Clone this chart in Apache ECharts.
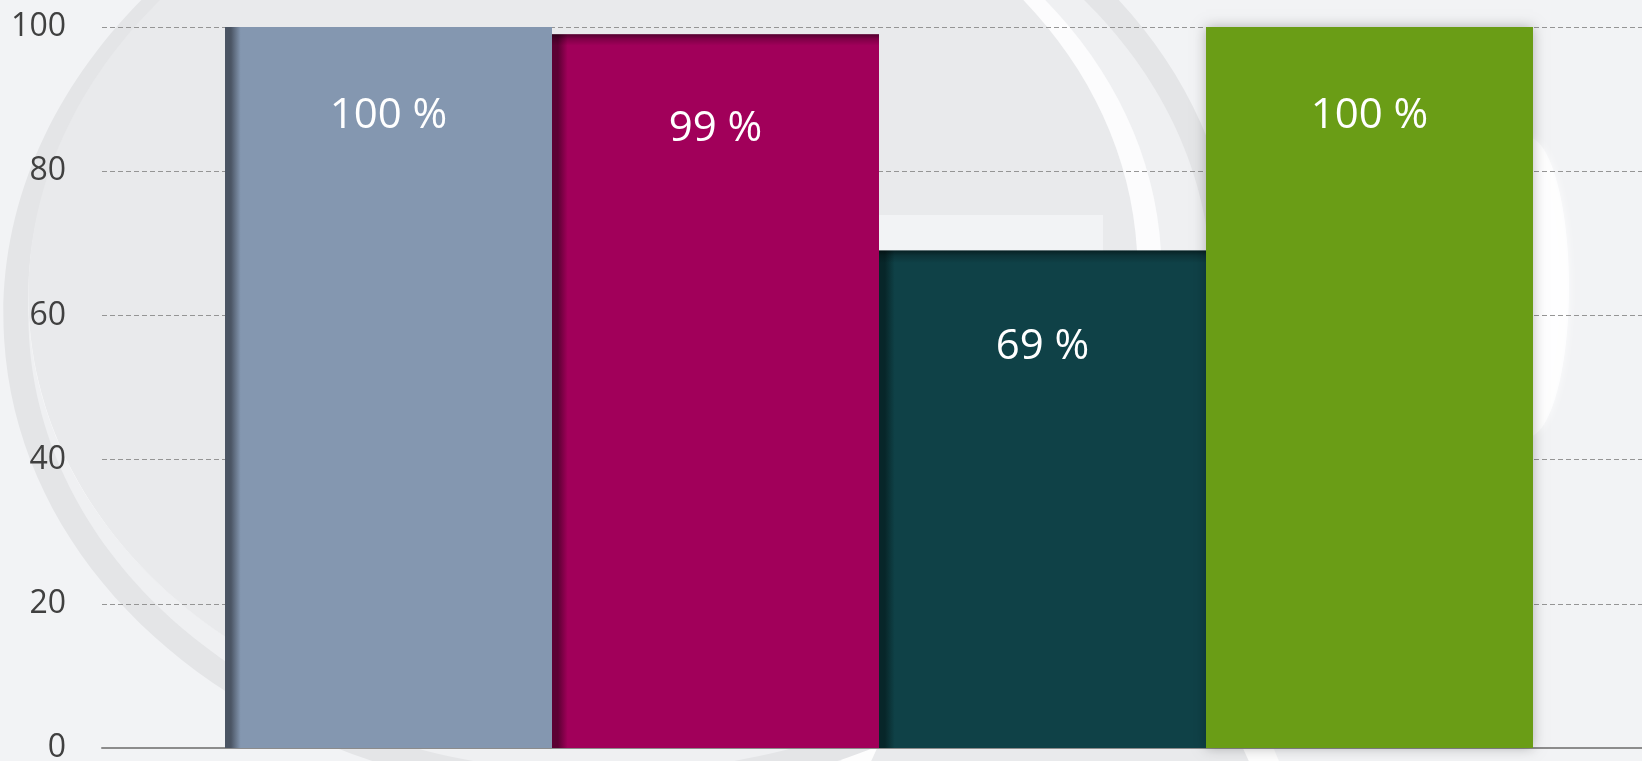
<!DOCTYPE html>
<html>
<head>
<meta charset="utf-8">
<script src="https://cdn.jsdelivr.net/npm/echarts@6/dist/echarts.min.js"></script>
<style>
  html, body { margin: 0; padding: 0; background: #f2f3f5; }
  #chart { width: 1642px; height: 761px; }
</style>
</head>
<body>
<div id="chart"></div>
<script>
// ---- data ----
const categories = [''];
const values = [100, 99, 69, 100];
const yTicks = [0, 20, 40, 60, 80, 100];

// ---- styles ----
const barColors = ['#8497b0', '#a1005a', '#0f4147', '#6a9d16'];
const edgeColors = ['#4b5564', '#5c0033', '#072629', null];
const topShade = [0, 0.016, 0.025, 0];
const labelDistance = [68, 74, 76, 68];

const chart = echarts.init(document.getElementById('chart'), null, { renderer: 'canvas' });

function leftEdgeFill(i) {
  if (!edgeColors[i]) return barColors[i];
  return new echarts.graphic.LinearGradient(0, 0, 1, 0, [
    { offset: 0, color: edgeColors[i] },
    { offset: 0.018, color: edgeColors[i] },
    { offset: 0.048, color: barColors[i] },
    { offset: 1, color: barColors[i] }
  ]);
}
function topFill(i) {
  if (!topShade[i]) return 'rgba(0,0,0,0)';
  return new echarts.graphic.LinearGradient(0, 0, 0, 1, [
    { offset: 0, color: 'rgba(0,0,0,0.5)' },
    { offset: topShade[i] * 0.4, color: 'rgba(0,0,0,0.22)' },
    { offset: topShade[i], color: 'rgba(0,0,0,0)' },
    { offset: 1, color: 'rgba(0,0,0,0)' }
  ]);
}

const baseSeries = values.map((v, i) => ({
  type: 'bar',
  xAxisIndex: 0,
  yAxisIndex: 0,
  data: [v],
  barWidth: 327,
  barGap: '0%',
  silent: true,
  z: 2,
  itemStyle: Object.assign({ color: leftEdgeFill(i) },
    i === 3 ? { shadowBlur: 12, shadowColor: 'rgba(0,0,0,0.28)' } : {})
}));

const overlaySeries = values.map((v, i) => ({
  type: 'bar',
  xAxisIndex: 1,
  yAxisIndex: 0,
  data: [v],
  barWidth: 327,
  barGap: '0%',
  silent: true,
  z: 3,
  itemStyle: { color: topFill(i) },
  label: {
    show: true,
    position: 'insideTop',
    distance: labelDistance[i],
    formatter: '{c} %',
    color: '#ffffff',
    fontSize: 42,
    lineHeight: 42,
    fontFamily: 'Open Sans'
  }
}));

const rot = 0.06;
const bgGraphics = [
  { type: 'ellipse', x: 1060, y: 900, shape: { cx: 0, cy: 0, rx: 230, ry: 300 },
    style: { fill: '#e9eaec', stroke: '#fdfdfd', lineWidth: 28 }, z: -20, silent: true },
  { type: 'ellipse', x: 620, y: 302, rotation: rot, shape: { cx: 0, cy: 0, rx: 617, ry: 495 },
    style: { fill: '#e4e5e7' }, z: -19, silent: true },
  { type: 'ellipse', x: 620, y: 302, rotation: rot, shape: { cx: 0, cy: 0, rx: 592, ry: 470 },
    style: { fill: '#eff0f2' }, z: -18, silent: true },
  { type: 'ellipse', x: 595, y: 285, rotation: rot, shape: { cx: 0, cy: 0, rx: 567, ry: 453 },
    style: { fill: '#fcfcfd' }, z: -17, silent: true },
  { type: 'ellipse', x: 583, y: 284, rotation: rot, shape: { cx: 0, cy: 0, rx: 555, ry: 452 },
    style: { fill: '#e9eaec' }, z: -16, silent: true },
  { type: 'rect', shape: { x: 879, y: 215, width: 224, height: 50 },
    style: { fill: '#f2f3f5' }, z: -15, silent: true },
  { type: 'ellipse', x: 1527, y: 287, shape: { cx: 0, cy: 0, rx: 42, ry: 150 },
    style: { fill: 'rgba(255,255,255,0.75)', shadowBlur: 10, shadowColor: '#ffffff' }, z: -15, silent: true }
];

const axisCommon = {
  type: 'category',
  data: categories,
  axisTick: { show: false },
  axisLabel: { show: false },
  splitLine: { show: false }
};

const option = {
  backgroundColor: '#f2f3f5',
  animation: false,
  graphic: { elements: bgGraphics },
  grid: { left: 102, top: 27, width: 1554, height: 721, containLabel: false, outerBoundsMode: 'none' },
  xAxis: [
    Object.assign({}, axisCommon, {
      axisLine: { show: true, lineStyle: { color: '#8c8c8c', width: 2 } }
    }),
    Object.assign({}, axisCommon, { show: false })
  ],
  yAxis: {
    type: 'value',
    min: yTicks[0],
    max: yTicks[yTicks.length - 1],
    interval: yTicks[1] - yTicks[0],
    axisLine: { show: false },
    axisTick: { show: false },
    axisLabel: {
      color: '#404040',
      fontSize: 32,
      fontFamily: 'Open Sans',
      margin: 36
    },
    splitLine: {
      show: true,
      lineStyle: { color: '#959595', width: 1.2, type: [5, 3] }
    }
  },
  series: baseSeries.concat(overlaySeries)
};

chart.setOption(option);
</script>
</body>
</html>
